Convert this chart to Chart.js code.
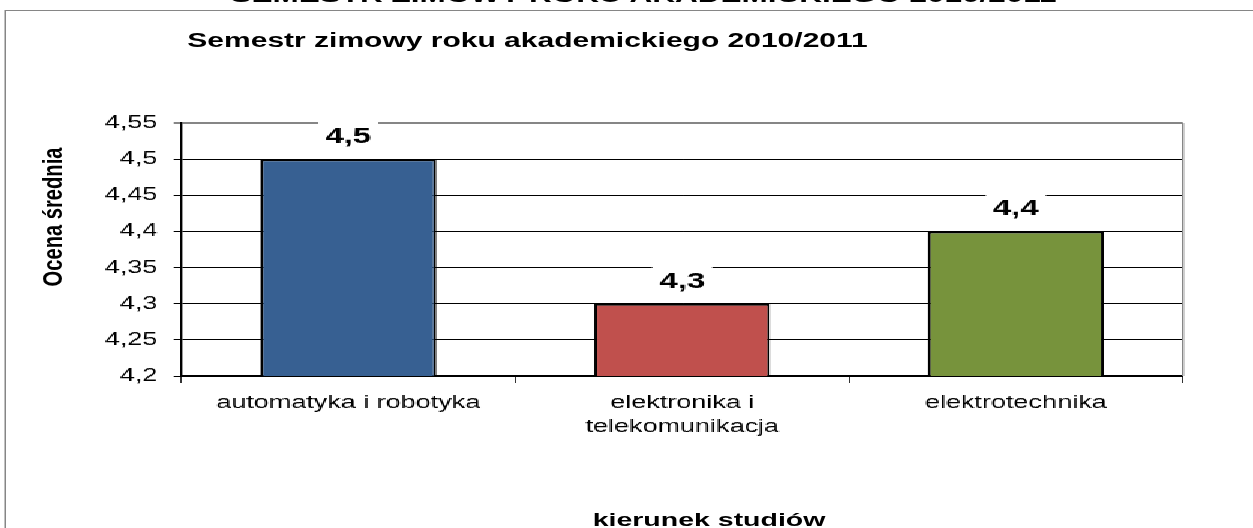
<!DOCTYPE html>
<html>
<head>
<meta charset="utf-8">
<script src="https://cdn.jsdelivr.net/npm/chart.js@4/dist/chart.umd.min.js"></script>
<style>
  html, body { margin: 0; padding: 0; background: #fff; overflow: hidden; }
  body { width: 1253px; height: 528px; position: relative; font-family: "Liberation Sans", Arial, sans-serif; }
  /* the original picture is stretched horizontally, so the whole chart is drawn narrow and widened */
  #wrap { position: absolute; left: 0; top: 0; width: 836px; height: 528px; transform: scaleX(1.5); transform-origin: 0 0; }
  #frame { position: absolute; left: 2.7px; top: 10px; width: 1000px; height: 1000px; border: 1px solid #868686; }
  #chart { position: absolute; left: 0; top: 0; image-rendering: pixelated; }
  .txt { position: absolute; white-space: nowrap; color: #000; line-height: 1; }
  #topText { left: 429px; top: -16px; font-size: 21px; font-weight: bold; transform: translateX(-50%); }
  #title { left: 351.7px; top: 30px; font-size: 20px; font-weight: bold; transform: translateX(-50%); }
  #yTitle { left: 35.3px; top: 217px; font-size: 18px; font-weight: bold; transform: translate(-50%, -50%) rotate(-90deg) scaleX(1.12); }
  #xTitle { left: 472.7px; top: 510px; font-size: 19px; font-weight: bold; transform: translateX(-50%); }
</style>
</head>
<body>
<div id="wrap">
  <div id="frame"></div>
  <div class="txt" id="topText">SEMESTR ZIMOWY ROKU AKADEMICKIEGO 2010/2011</div>
  <div class="txt" id="title">Semestr zimowy roku akademickiego 2010/2011</div>
  <div class="txt" id="yTitle">Ocena średnia</div>
  <div class="txt" id="xTitle">kierunek studiów</div>
  <canvas id="chart" width="836" height="528"></canvas>
</div>
<script>
const kierunki = ['automatyka i robotyka', ['elektronika i', 'telekomunikacja'], 'elektrotechnika'];
const oceny = [4.5, 4.3, 4.4];
const yMin = 4.2;
const yMax = 4.55;
const yStep = 0.05;

const barColors = ['#376092', '#C0504D', '#77933C'];

const fmt = (v) => String(Math.round(v * 100) / 100).replace('.', ',');

// value labels above bars, on a white box that hides the grid line behind them
const valueLabels = {
  id: 'valueLabels',
  afterDatasetsDraw(chart) {
    const ctx = chart.ctx;
    const meta = chart.getDatasetMeta(0);
    ctx.save();
    ctx.font = 'bold 22px "Liberation Sans", Arial, sans-serif';
    ctx.textAlign = 'center';
    ctx.textBaseline = 'middle';
    meta.data.forEach((bar, i) => {
      const y = bar.y - 23;
      ctx.fillStyle = '#fff';
      ctx.fillRect(bar.x - 20, y - 15, 40, 29);
      ctx.fillStyle = '#000';
      ctx.fillText(fmt(oceny[i]), bar.x, y + 1);
    });
    ctx.restore();
  }
};

// grey right edge of the plot area
const plotEdge = {
  id: 'plotEdge',
  beforeDatasetsDraw(chart) {
    const { ctx, chartArea } = chart;
    ctx.save();
    ctx.strokeStyle = '#868686';
    ctx.lineWidth = 1.4;
    ctx.beginPath();
    ctx.moveTo(chartArea.right, chartArea.top);
    ctx.lineTo(chartArea.right, chartArea.bottom);
    ctx.stroke();
    ctx.restore();
  }
};

new Chart(document.getElementById('chart'), {
  type: 'bar',
  data: {
    labels: kierunki,
    datasets: [{
      data: oceny,
      backgroundColor: barColors,
      borderColor: '#000',
      borderWidth: 2,
      borderSkipped: false,
      categoryPercentage: 1,
      barPercentage: 0.527
    }]
  },
  options: {
    responsive: false,
    animation: false,
    devicePixelRatio: 1,
    layout: { padding: { top: 123, left: 0, right: 47.3, bottom: 0 } },
    plugins: {
      legend: { display: false },
      tooltip: { enabled: false }
    },
    scales: {
      x: {
        afterFit(scale) { scale.height = 152; },
        grid: {
          offset: true,
          drawOnChartArea: false,
          drawTicks: true,
          tickLength: 7,
          color: '#000',
          lineWidth: 0.8
        },
        border: { display: true, color: '#000', width: 2 },
        ticks: {
          autoSkip: false,
          maxRotation: 0,
          padding: 9,
          color: '#000',
          font: { family: '"Liberation Sans", Arial, sans-serif', size: 18, lineHeight: 1.28 }
        }
      },
      y: {
        min: yMin,
        max: yMax,
        afterFit(scale) { scale.width = 120.7; },
        grid: {
          color: (c) => (c.tick && Math.abs(c.tick.value - yMax) < 1e-6 ? '#868686' : '#000'),
          lineWidth: (c) => (c.tick && Math.abs(c.tick.value - yMax) < 1e-6 ? 2 : 1),
          tickLength: 5,
          drawTicks: true
        },
        border: { display: true, color: '#000', width: 1.4 },
        ticks: {
          stepSize: yStep,
          padding: 11,
          color: '#000',
          font: { family: '"Liberation Sans", Arial, sans-serif', size: 18 },
          callback: (v) => fmt(v)
        }
      }
    }
  },
  plugins: [valueLabels, plotEdge]
});
</script>
</body>
</html>
